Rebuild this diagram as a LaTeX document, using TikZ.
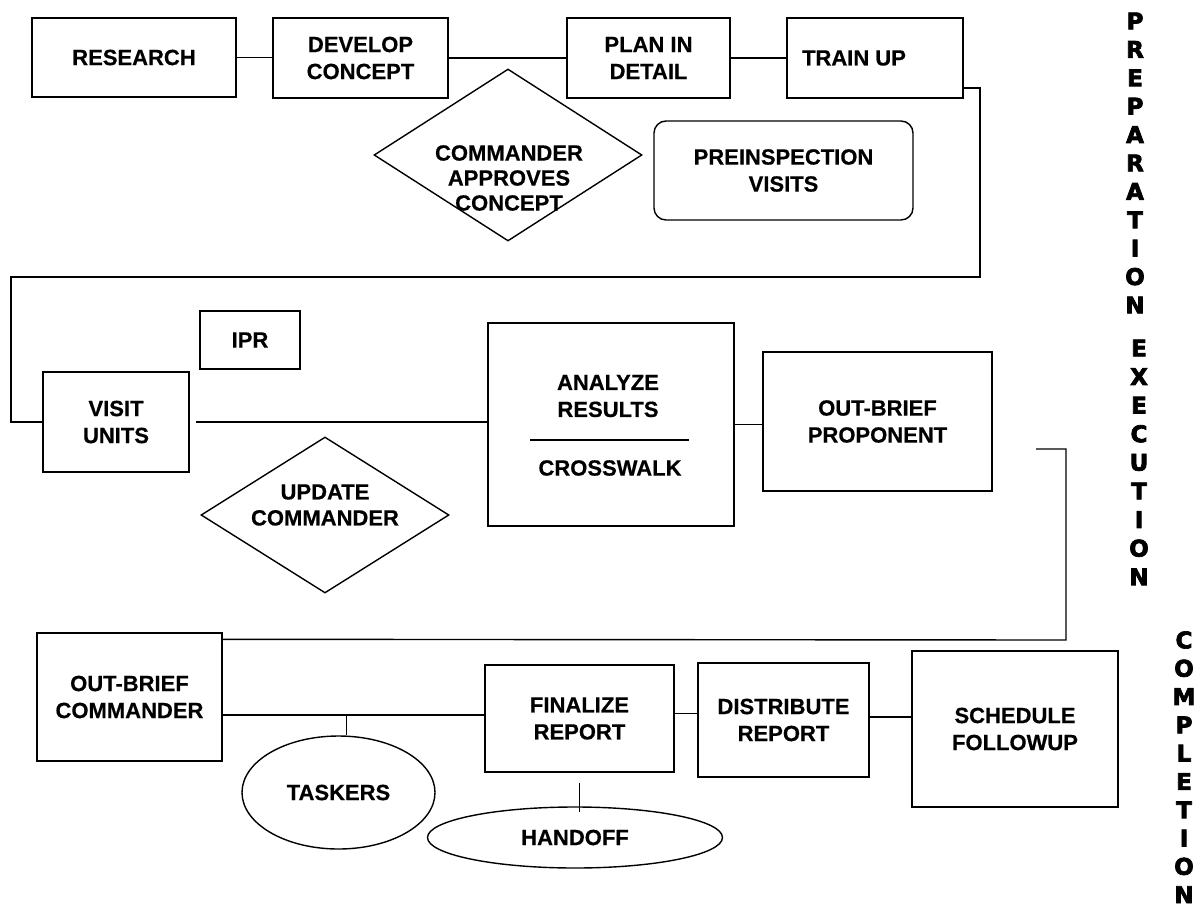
\documentclass[tikz,border=0pt]{standalone}
\usepackage{fontspec}
\setmainfont{Liberation Sans}[BoldFeatures={FakeBold=0.5}]
\newfontfamily\heavy{DejaVu Sans}[UprightFont={* Bold},FakeBold=3]
\usetikzlibrary{shapes.geometric}
\begin{document}
\begin{tikzpicture}[x=1pt,y=-1pt,line width=1.4pt,
  box/.style={draw,rectangle,inner sep=0pt},
  txt/.style={font=\fontsize{22}{27}\selectfont\bfseries,align=center,inner sep=0pt},
  dia/.style={draw,diamond,inner sep=0pt},
  ell/.style={draw,ellipse,inner sep=0pt},
  vlet/.style={font=\fontsize{23}{23}\selectfont\heavy,inner sep=0pt}]
\useasboundingbox (0,0) rectangle (1204,907);
% top row
\node[box,txt,minimum width=204,minimum height=79] (research) at (134,57.5) {RESEARCH};
\node[box,txt,minimum width=175,minimum height=80] (develop) at (360.5,58) {DEVELOP\\CONCEPT};
\node[box,txt,minimum width=163,minimum height=80] (plan) at (648.5,58) {PLAN IN\\DETAIL};
\node[box,minimum width=176,minimum height=80] (trainup) at (875,58) {};
\node[txt] (trainupT) at (854,58) {TRAIN UP};
\node[dia,minimum width=268,minimum height=172] (approve) at (508,155) {};
\node[txt,font=\fontsize{22}{25}\selectfont\bfseries] (approveT) at (509,178) {COMMANDER\\APPROVES\\CONCEPT};
\node[box,txt,rounded corners=12pt,minimum width=259,minimum height=99] (preinsp) at (783.5,170.5) {PREINSPECTION\\VISITS};
% middle row
\node[box,txt,minimum width=100,minimum height=58] (ipr) at (250,340) {IPR};
\node[box,txt,minimum width=146,minimum height=100] (visit) at (116,422) {VISIT\\UNITS};
\node[box,minimum width=246,minimum height=203] (analyze) at (611,424.5) {};
\node[txt] (analyzeT) at (608,396) {ANALYZE\\RESULTS};
\draw (530,440) -- (689,440);
\node[txt] (crosswalk) at (610,468) {CROSSWALK};
\node[box,txt,minimum width=229,minimum height=139] (proponent) at (877.5,421.5) {OUT-BRIEF\\PROPONENT};
\node[dia,minimum width=248,minimum height=156] (update) at (325,515) {};
\node[txt,font=\fontsize{22}{26}\selectfont\bfseries] (updateT) at (325,505) {UPDATE\\COMMANDER};
% bottom row
\node[box,txt,minimum width=185,minimum height=128] (commander) at (129.5,697) {OUT-BRIEF\\COMMANDER};
\node[ell,txt,minimum width=193,minimum height=113] (taskers) at (338.5,792.5) {TASKERS};
\node[box,txt,minimum width=189,minimum height=107] (finalize) at (579.5,718.5) {FINALIZE\\REPORT};
\node[ell,txt,minimum width=295,minimum height=61] (handoff) at (575,837.5) {HANDOFF};
\node[box,txt,minimum width=171,minimum height=114] (distribute) at (783.5,720) {DISTRIBUTE\\REPORT};
\node[box,txt,minimum width=206,minimum height=156] (schedule) at (1015,729) {SCHEDULE\\FOLLOWUP};
% connectors
\draw (research.east) -- (research.east -| develop.west);
\draw (develop.east) -- (develop.east -| plan.west);
\draw (plan.east) -- (plan.east -| trainup.west);
\coordinate (bendA) at (980,277);
\coordinate (bendB) at (11,277);
\draw ([yshift=-30pt]trainup.east) -| (bendA) -- (bendB) |- (visit.west);
\draw ([xshift=6pt]visit.east) -- (visit.east -| analyze.west);
\draw (analyze.east) -- (analyze.east -| proponent.west);
\coordinate (c2start) at (1036,449);
\coordinate (bendC) at (1066,640);
\draw (c2start) -| (bendC) -- ([yshift=-7pt]commander.north east);
\draw ([yshift=-18pt]commander.east) coordinate (t1) -- (t1 -| finalize.west);
\draw ([xshift=8pt]taskers.north) -- ([xshift=8pt]taskers.north |- t1);
\draw[shorten >=4pt] ([yshift=-10pt]finalize.south) -- ([yshift=-10pt]finalize.south |- handoff.north);
\draw ([yshift=5pt]finalize.east) coordinate (t2) -- (t2 -| distribute.west);
\draw ([yshift=3pt]distribute.east) coordinate (t3) -- (t3 -| schedule.west);
% vertical phase labels
\foreach \l [count=\i from 0] in {P,R,E,P,A,R,A,T,I,O,N}
  \node[vlet] (prep\i) at (1135,21+28.4*\i) {\l};
\foreach \l [count=\i from 0] in {E,X,E,C,U,T,I,O,N}
  \node[vlet] (exec\i) at (1139,348+28.6*\i) {\l};
\foreach \l [count=\i from 0] in {C,O,M,P,L,E,T,I,O,N}
  \node[vlet] (comp\i) at (1184,640+28.3*\i) {\l};
\end{tikzpicture}
\end{document}
